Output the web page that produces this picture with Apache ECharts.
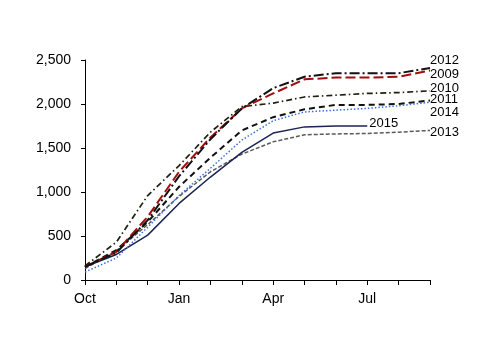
<!DOCTYPE html>
<html>
<head>
<meta charset="utf-8">
<script src="https://cdn.jsdelivr.net/npm/echarts@6/dist/echarts.min.js"></script>
<style>
  html, body { margin: 0; padding: 0; background: #fff; }
  #chart { width: 500px; height: 353px; }
</style>
</head>
<body>
<div id="chart"></div>
<script>
// months of the season, Oct..Sep
var months = ['Oct', 'Nov', 'Dec', 'Jan', 'Feb', 'Mar', 'Apr', 'May', 'Jun', 'Jul', 'Aug', 'Sep'];
var yTicks = [0, 500, 1000, 1500, 2000, 2500];

// cumulative values per season
var s2012 = [150, 310, 680, 1180, 1600, 1950, 2180, 2310, 2350, 2350, 2350, 2410];
var s2009 = [150, 320, 720, 1230, 1620, 1950, 2120, 2280, 2300, 2300, 2310, 2380];
var s2010 = [160, 430, 960, 1300, 1680, 1970, 2010, 2080, 2100, 2120, 2130, 2150];
var s2011 = [150, 340, 660, 1060, 1390, 1700, 1850, 1940, 1990, 1990, 2000, 2040];
var s2014 = [90, 250, 600, 960, 1270, 1590, 1810, 1910, 1930, 1950, 1980, 2020];
var s2013 = [130, 330, 630, 950, 1230, 1430, 1570, 1650, 1660, 1665, 1680, 1700];
var s2015 = [150, 290, 510, 870, 1170, 1450, 1670, 1740, 1750, 1750];

var myChart = echarts.init(document.getElementById('chart'));

function line(name, data, color, width, dash, off) {
  return {
    name: name,
    type: 'line',
    data: data,
    symbol: 'none',
    silent: true,
    lineStyle: { color: color, width: width, type: dash },
    endLabel: {
      show: true,
      formatter: name,
      color: '#000',
      fontSize: 13,
      fontFamily: 'Liberation Sans',
      distance: 0,
      offset: off
    }
  };
}

var option = {
  animation: false,
  textStyle: { fontFamily: 'Liberation Sans' },
  grid: { left: 85, right: 70, top: 60, bottom: 73 },
  xAxis: {
    type: 'category',
    data: months,
    boundaryGap: false,
    axisLine: { lineStyle: { color: '#000', width: 1 } },
    axisTick: { interval: 0, length: 5, lineStyle: { color: '#000' } },
    axisLabel: { interval: 2, color: '#000', fontSize: 14, margin: 12 },
    splitLine: { show: false }
  },
  yAxis: {
    type: 'value',
    min: yTicks[0],
    max: yTicks[yTicks.length - 1],
    interval: 500,
    axisLine: { show: true, lineStyle: { color: '#000', width: 1 } },
    axisTick: { show: true, length: 4, lineStyle: { color: '#000' } },
    axisLabel: {
      color: '#000', fontSize: 14, margin: 14,
      formatter: function (v) { return v.toLocaleString('en-US'); }
    },
    splitLine: { show: false }
  },
  series: [
    line('2013', s2013, '#5a5a5a', 1.5, [4, 2], [0, 2]),
    line('2015', s2015, '#1b2452', 1.5, 'solid', [2, -3]),
    line('2014', s2014, '#3d6fdc', 1.5, [1.5, 2], [0, 10]),
    line('2011', s2011, '#111', 2, [6, 4], [0, -1]),
    line('2010', s2010, '#1d2210', 1.7, [6, 3, 1.5, 3], [0, -2]),
    line('2009', s2009, '#a30d0d', 2, [10, 4], [0, 4]),
    line('2012', s2012, '#111', 2, [10, 3, 2, 3], [0, -7])
  ]
};

myChart.setOption(option);
</script>
</body>
</html>
